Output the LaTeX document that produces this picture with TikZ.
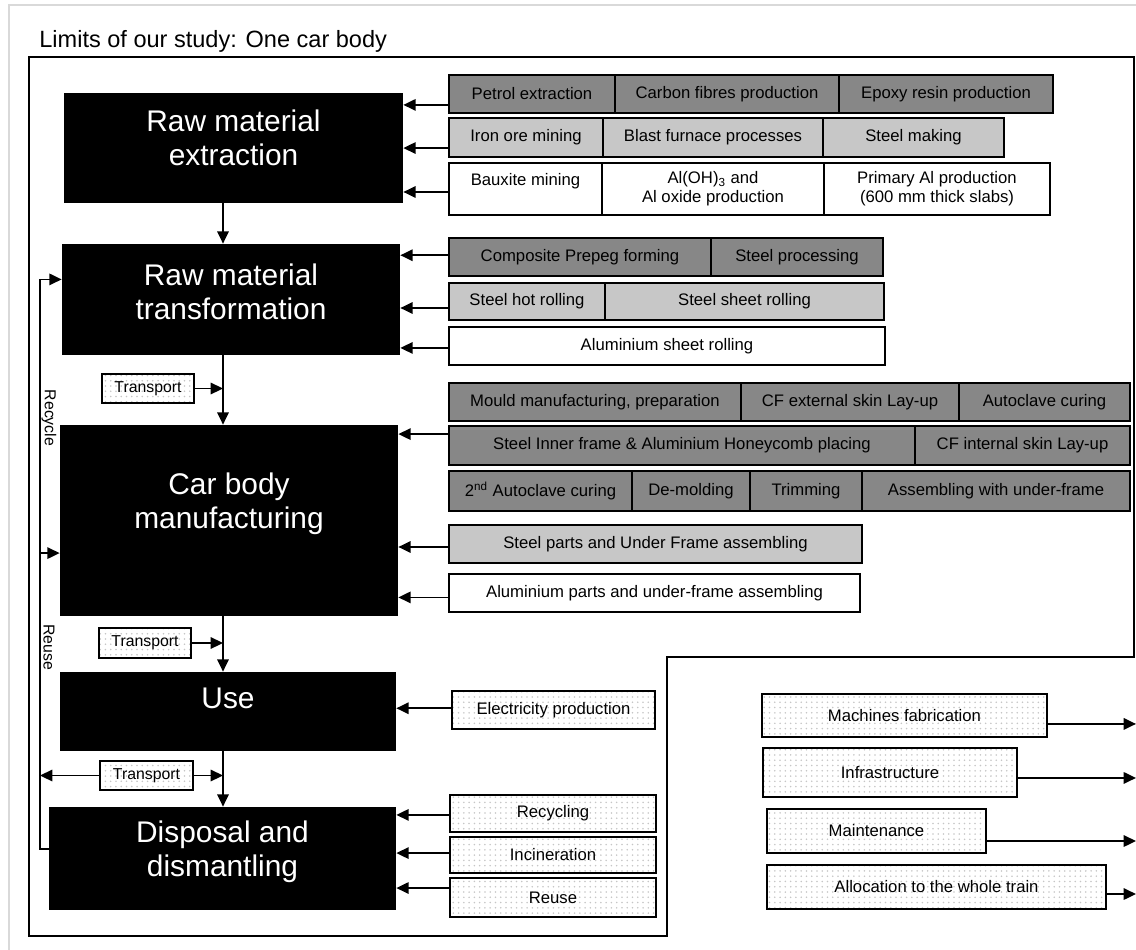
\documentclass[tikz,border=0pt]{standalone}
\usepackage{fontspec}
\setmainfont{Liberation Sans}
\usetikzlibrary{arrows.meta,positioning,calc,patterns}
\definecolor{cfgray}{gray}{0.53}
\definecolor{stgray}{gray}{0.78}
\definecolor{framegray}{gray}{0.85}
\tikzset{box/.style args={#1/#2/#3/#4}{minimum width={(#2-#1)*0.02cm}, minimum height={(#4-#3)*0.02cm}, at={({(#1+#2)/2},{(#3+#4)/2})}},
 stage/.style={fill=black, draw=none, inner sep=0pt},
 stagetext/.style={text=white, align=center, font=\fontsize{17}{19.5}\selectfont},
 cell/.style={draw, line width=0.8pt, inner sep=0pt, align=center, font=\fontsize{9.5}{11}\selectfont},
 cfcell/.style={cell, fill=cfgray},
 stcell/.style={cell, fill=stgray},
 alcell/.style={cell, fill=white},
 dotcell/.style={cell, pattern=dots, pattern color=gray!45},
 sidetext/.style={font=\fontsize{9}{10}\selectfont, inner sep=0pt},
 flow/.style={line width=1pt, -{Triangle[length=7pt,width=6.5pt]}},
 }

\begin{document}
\begin{tikzpicture}[x=0.02cm, y=-0.02cm]
        \useasboundingbox (0,0) rectangle (1136,950);
        \draw[framegray, line width=1.2pt] (9,950) -- (9,5) -- (1136,5);
        \node[anchor=base west, inner sep=0pt, font=\fontsize{13.4}{15}\selectfont] (title) at (39,47) {Limits of our study: One car body};
        % limits of the study
        \draw[line width=1pt] (29,57) -- (1134,57) -- (1134,657) -- (667,657) -- (667,936) -- (29,936) -- cycle;

        % life cycle stages
        \node[stage, box=64/403/93/203] (ext) {};
        \node[stage, box=62/400/244/355] (trans) {};
        \node[stage, box=60/398/425/616] (car) {};
        \node[stage, box=60/396/672/751] (use) {};
        \node[stage, box=49/396/807/910] (disp) {};
        \node[stagetext] (extT) at ([yshift=6pt]ext.center) {Raw material\\extraction};
        \node[stagetext] (transT) at ([yshift=4.5pt]trans.center) {Raw material\\transformation};
        \node[stagetext] (carT) at ([yshift=9.5pt]car.center) {Car body\\manufacturing};
        \node[stagetext] (useT) at ([yshift=7.5pt]use.center) {Use};
        \node[stagetext] (dispT) at ([yshift=4pt]disp.center) {Disposal and\\dismantling};

        \coordinate (spine) at (223,0);
        \draw[flow] (ext.south -| spine) -- (trans.north -| spine);
        \draw[flow] (trans.south -| spine) -- (car.north -| spine);
        \draw[flow] (car.south -| spine) -- (use.north -| spine);
        \draw[flow] (use.south -| spine) -- (disp.north -| spine);

        % transport
        \node[dotcell, font=\fontsize{9}{10}\selectfont, box=102/194/374/403] (tra1) {Transport};
        \node[dotcell, font=\fontsize{9}{10}\selectfont, box=99/191/628/658] (tra2) {Transport};
        \node[dotcell, font=\fontsize{9}{10}\selectfont, box=100/193/761/790] (tra3) {Transport};
        \foreach \t in {tra1, tra2, tra3} {
            \draw[flow] (\t.east) -- (\t.east -| spine);
        }

        % recycle and reuse loop
        \coordinate (loop) at (40,0);
        \coordinate (rin) at ($(disp.north west)!.41!(disp.south west)$);
        \coordinate (tin) at ($(trans.north west)!.32!(trans.south west)$);
        \coordinate (cin) at ($(car.north west)!.67!(car.south west)$);
        \draw[flow] (rin) -- (rin -| loop) -- (tin -| loop) -- (tin);
        \draw[flow] (cin -| loop) -- (cin);
        \draw[flow] (tra3.west) -- (tra3.west -| loop);
        \node[sidetext, rotate=-90] (recycle) at (49,418) {Recycle};
        \node[sidetext, rotate=-90] (reuse) at (49,647) {Reuse};

        % raw material extraction
        \foreach \a/\b/\n/\t in {449/615/petrol/Petrol extraction, 615/839/cfib/Carbon fibres production, 839/1053/epoxy/Epoxy resin production}
            \node[cfcell, box=\a/\b/75/113] (\n) {\t};
        \foreach \a/\b/\n/\t in {449/603/iron/Iron ore mining, 603/823/blast/Blast furnace processes, 823/1004/smak/Steel making}
            \node[stcell, box=\a/\b/118/157] (\n) {\t};
        \foreach \a/\b/\n/\t in {449/602/baux/{Bauxite mining\\\mbox{}}, 602/824/oxide/{Al(OH)\textsubscript{3} and\\Al oxide production}, 824/1050/prim/{Primary Al production\\(600 mm thick slabs)}}
            \node[alcell, box=\a/\b/163/215] (\n) {\t};
        \draw[flow] ([yshift=-6.2pt]petrol.west) -- ([yshift=-6.2pt]petrol.west -| ext.east);
        \draw[flow] ([yshift=-6pt]iron.west) -- ([yshift=-6pt]iron.west -| ext.east);
        \draw[flow] ([yshift=-1.7pt]baux.west) -- ([yshift=-1.7pt]baux.west -| ext.east);

        % raw material transformation
        \node[cfcell, box=449/711/238/276] (prepeg) {Composite Prepeg forming};
        \node[cfcell, box=711/883/238/276] (sproc) {Steel processing};
        \node[stcell, box=449/605/283/320] (hot) {Steel hot rolling};
        \node[stcell, box=605/884/283/320] (sheet) {Steel sheet rolling};
        \node[alcell, box=449/885/327/365] (alsheet) {Aluminium sheet rolling};
        \draw[flow] ([yshift=1pt]prepeg.west) -- ([yshift=1pt]prepeg.west -| trans.east);
        \draw[flow] ([yshift=-3.7pt]hot.west) -- ([yshift=-3.7pt]hot.west -| trans.east);
        \draw[flow] ([yshift=-1.1pt]alsheet.west) -- ([yshift=-1.1pt]alsheet.west -| trans.east);

        % car body manufacturing
        \foreach \a/\b/\n/\t in {449/741/mould/{Mould manufacturing, preparation}, 741/959/cfext/CF external skin Lay-up, 959/1130/auto/Autoclave curing}
            \node[cfcell, box=\a/\b/383/421] (\n) {\t};
        \foreach \a/\b/\n/\t in {449/915/inner/Steel Inner frame \& Aluminium Honeycomb placing, 915/1130/cfint/CF internal skin Lay-up}
            \node[cfcell, box=\a/\b/426/465] (\n) {\t};
        \foreach \a/\b/\n/\t in {449/632/auto2/2\textsuperscript{nd} Autoclave curing, 632/750/demold/De-molding, 750/862/trim/Trimming, 862/1130/assem/Assembling with under-frame}
            \node[cfcell, box=\a/\b/471/511] (\n) {\t};
        \node[stcell, box=449/862/525/563] (stparts) {Steel parts and Under Frame assembling};
        \node[alcell, box=449/860/574/612] (alparts) {Aluminium parts and under-frame assembling};
        \draw[flow] ([yshift=6.5pt]inner.west) -- ([yshift=6.5pt]inner.west -| car.east);
        \draw[flow] ([yshift=-1.7pt]stparts.west) -- ([yshift=-1.7pt]stparts.west -| car.east);
        \draw[flow] ([yshift=-2.5pt]alparts.west) -- ([yshift=-2.5pt]alparts.west -| car.east);

        % use and end of life
        \node[dotcell, box=452/655/691/729] (elec) {Electricity production};
        \draw[flow] ([yshift=1pt]elec.west) -- ([yshift=1pt]elec.west -| use.east);
        \node[dotcell, box=450/656/795/832] (recyc) {Recycling};
        \node[dotcell, box=450/656/837/873] (incin) {Incineration};
        \node[dotcell, box=450/656/878/917] (reus) {Reuse};
        \draw[flow] ([yshift=-0.8pt]recyc.west) -- ([yshift=-0.8pt]recyc.west -| disp.east);
        \draw[flow] ([yshift=1.1pt]incin.west) -- ([yshift=1.1pt]incin.west -| disp.east);
        \draw[flow] ([yshift=5.4pt]reus.west) -- ([yshift=5.4pt]reus.west -| disp.east);

        % outside the limits
        \coordinate (edge) at (1136,0);
        \node[dotcell, box=762/1047/694/737] (mach) {Machines fabrication};
        \node[dotcell, box=763/1017/748/797] (infra) {Infrastructure};
        \node[dotcell, box=767/986/809/853] (maint) {Maintenance};
        \node[dotcell, box=767/1106/865/909] (alloc) {Allocation to the whole train};
        \draw[flow] ([yshift=-4.8pt]mach.east) -- ([yshift=-4.8pt]mach.east -| edge);
        \draw[flow] ([yshift=-3.1pt]infra.east) -- ([yshift=-3.1pt]infra.east -| edge);
        \draw[flow] ([yshift=-5.7pt]maint.east) -- ([yshift=-5.7pt]maint.east -| edge);
        \draw[flow] ([yshift=-4pt]alloc.east) -- ([yshift=-4pt]alloc.east -| edge);
    \end{tikzpicture}
\end{document}
